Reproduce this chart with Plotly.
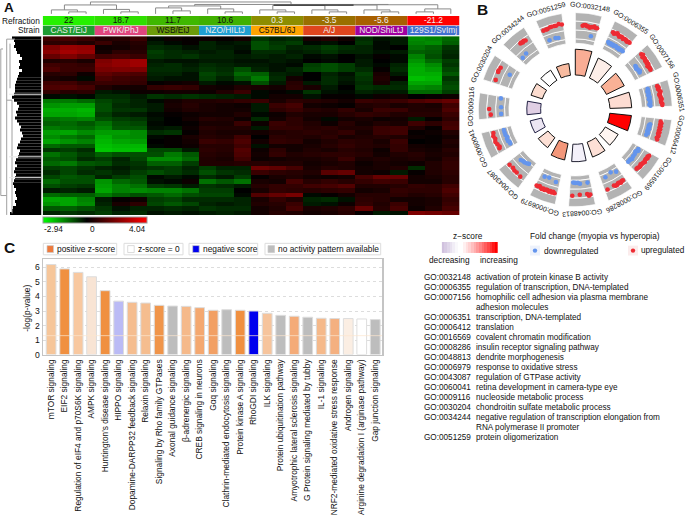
import math
import plotly.graph_objects as go

W, H = 685, 518
FONT = "Liberation Sans"

# ---------- panel A data ----------
refraction = ["22", "18.7", "11.7", "10.6", "0.3", "-3.5", "-5.6", "-21.2"]
refraction_colors = ["#26f000", "#2fdf00", "#3fb800", "#40b000", "#8d8d00", "#9a7000", "#a86000", "#ff0000"]
refraction_text = ["#111", "#111", "#111", "#111", "#eee", "#eee", "#eee", "#eee"]
strains = ["CAST/EiJ", "PWK/PhJ", "WSB/EiJ", "NZO/HILtJ", "C57BL/6J", "A/J", "NOD/ShiLtJ", "129S1/SvImj"]
strain_colors = ["#1e9b32", "#e0457e", "#6b9b0a", "#1f9fd0", "#ffa500", "#e0451e", "#a000a0", "#4070d0"]
strain_text = ["#eee", "#eee", "#111", "#eee", "#111", "#eee", "#eee", "#eee"]
strain_centers = [1, 4, 7, 10, 13, 16, 19, 22]

expression = [
 [1.0,1.1,.9, .5,.6,.9, -.1,.2,.1, .2,.1,.3, -.6,-.4,-.5, .4,.6,.3, -.5,-.2,-.3, -1.6,-1.5,-1.2],
 [.7,.7,.5, .9,.4,.6, -.3,-.1,.1, -.4,-.2,-.3, -.9,-.6,-.7, -.1,-.2,.0, -.6,-.1,-.3, -1.5,-1.6,-1.1],
 [2.0,2.4,2.3, .2,.3,.5, -.5,-.4,-.2, -.4,-.3,-.2, -.9,-.7,-.4, -.5,-.7,-.5, -.4,-.1,.0, -1.3,-1.1,-.6],
 [2.2,2.6,2.4, .3,.7,.6, -.7,-.5,-.4, -.3,-.4,-.1, -.5,-.5,-.3, -.4,-.6,-.4, -.4,-.2,-.3, -1.1,-1.0,-.5],
 [1.6,2.0,1.6, 1.0,1.1,.9, -.6,-.5,-.6, -.4,-.4,-.3, -.4,-.3,-.4, -.1,-.2,.0, -.2,.1,-.1, -1.5,-.9,-.4],
 [.5,.6,.4, 2.0,2.3,2.5, -.3,-.2,-.2, -.3,-.3,-.2, -.2,-.3,-.2, .0,-.1,.0, -.3,.0,-.1, -1.7,-1.2,-.7],
 [1.0,.9,.8, 2.1,2.3,2.5, -.4,-.5,-.3, -.5,-.4,-.3, -.3,-.2,-.1, -.7,-.9,-.7, -.3,-.1,-.4, -1.9,-1.6,-.6],
 [1.2,.9,.9, 1.9,2.0,2.0, -.5,-.5,-.4, -.6,-.5,-.9, -.4,-.2,-.4, -.8,-.9,-.7, -.5,.1,-.5, -2.0,-1.8,-.8],
 [.6,.7,.2, 1.5,1.3,1.2, -.4,-.4,-.2, -.8,-.6,-1.2, -1.1,-.4,-.3, .0,-.4,-.2, -.7,.4,-.3, -2.0,-2.0,-1.0],
 [.4,.3,-.1, 1.2,1.0,.9, -.3,-.2,-.2, -.7,-.4,-.9, -1.4,-.5,.3, .0,-.5,-.3, -.6,.5,.1, -2.2,-2.1,-.6],
 [1.0,1.0,.7, .9,.9,.8, .1,.2,.3, -.3,-.1,-.2, -.9,-.3,.6, -.3,-.5,-.2, -.5,.4,-.4, -1.9,-1.9,-.8],
 [1.2,1.3,1.1, .5,.3,.3, .8,.9,.8, .3,.2,.5, .4,.3,.7, .4,-.3,.0, -.6,-.5,-.5, -1.6,-1.5,-.9],
 [.8,.6,.7, -.3,-.2,.2, .2,.3,.3, .2,.5,.9, -.1,.1,-.1, -.6,-.2,-.1, -.4,-.3,-.3, -1.2,-1.2,-.7],
 [-.1,-.2,-.1, -.5,-.5,-.3, -.6,-.5,-.6, -.5,-.4,-.3, -.1,.3,.3, -.2,.1,.1, -.1,.2,.3, .0,.1,.2],
 [-1.4,-1.4,-1.2, -.8,-.6,-.4, -.1,.3,.5, .5,.6,.8, .9,.4,.7, .6,.5,.3, .9,.8,.9, 1.2,1.4,1.6],
 [-1.7,-1.8,-1.8, -.9,-.5,-.4, -.3,.4,.6, .4,.3,.2, -.3,.9,1.1, .3,.2,.1, .5,.6,.4, .5,.4,1.0],
 [-2.0,-2.0,-2.1, -.9,-.6,-.6, -.3,.3,.5, .4,.3,.3, -.3,.7,.9, .6,.5,.8, .4,.9,.9, .5,.5,1.2],
 [-1.9,-1.9,-2.0, -.7,-.4,-.3, -.1,.1,.2, .3,.3,.5, -.1,.2,.5, .4,.4,.6, .8,.7,.5, .6,.6,.9],
 [-1.3,-1.4,-1.5, -.9,-.7,-.6, -.2,.0,.3, .6,.5,.2, -.5,.3,.7, .3,-.1,.3, .4,.2,.3, -.3,.1,.7],
 [-1.1,-1.2,-1.0, -1.3,-.9,-.8, -.1,.0,.1, .4,.4,.9, .2,.9,.7, .5,.2,.6, .3,.5,.4, 1.0,.7,1.0],
 [-1.4,-1.3,-1.2, -1.5,-1.0,-1.0, -.2,-.3,.2, .6,.5,.5, -.3,.8,.8, .6,.7,.5, .5,.9,1.0, .5,.1,1.1],
 [-1.8,-1.9,-1.6, -1.8,-1.8,-1.6, -.5,-.6,.1, .5,.4,.4, .3,.5,.6, .7,.6,.8, .4,.9,1.0, .1,.2,.5],
 [-1.6,-1.4,-1.2, -2.0,-1.7,-1.6, -.1,.1,.4, .6,.5,1.0, .0,.7,.6, .5,.7,.4, .5,.6,.5, .2,.1,.3],
 [-1.9,-1.7,-1.5, -2.1,-1.9,-1.8, .0,.1,.3, .9,.8,1.2, .3,.8,.7, .3,.5,.7, .6,.4,.9, .0,.1,.5],
 [-1.2,-1.0,-1.0, -2.2,-2.1,-2.1, -.1,.1,.2, .6,.6,1.0, -.2,.3,.3, .4,.6,.8, .6,.5,.8, .3,.2,.4],
 [-.6,-.7,-.5, -2.3,-2.2,-2.2, -.8,-.8,-.3, .7,.6,1.3, .2,.7,.3, .5,.4,.6, .5,.2,.8, .4,.3,.6],
 [-1.3,-1.0,-.7, -1.1,-.9,-.9, -.9,-1.4,-1.0, .6,.5,1.2, .3,.8,.5, .6,.7,.7, .6,.3,.5, .6,.4,.5],
 [-1.0,-.9,-.5, -.7,-.4,-.8, -1.6,-1.6,-1.2, .5,.4,1.0, .2,.3,.4, .4,.5,.9, .4,.5,.4, .5,.3,.7],
 [-1.2,-1.4,-1.0, -.9,-.5,-.6, -1.1,-1.1,-.7, .5,.5,.6, .6,.5,.5, .3,.4,.5, .2,.4,.3, .2,.5,.8],
 [-.7,-.8,-.6, -.4,-.3,-.5, -.6,-.7,-.4, -.7,-.4,-.4, 1.7,1.5,1.1, .4,.6,.5, .3,.4,.5, -.5,.5,.8],
 [-.5,-.8,-.5, -.6,-.4,-.7, -.9,-.7,-.5, -.9,-.6,-.5, .9,.7,.6, .5,1.4,1.6, .3,.2,-.3, .1,.5,.7],
 [-.8,-1.0,-.9, -.4,-.7,-.9, -.1,-.3,-.1, -.5,-.3,-.7, .1,.4,.5, .3,.2,.3, 1.1,1.6,1.6, .3,.4,.6],
 [-1.2,-.9,-.9, -1.7,-1.2,-1.0, -.2,-.1,.2, -1.3,-1.0,-1.3, .4,.3,1.1, .6,.8,.6, .8,1.0,.9, .3,.3,.6],
 [-.9,-.7,-.6, -1.8,-1.5,-1.3, -.7,-.6,-.3, -.6,-.5,-.3, .6,.8,.8, 1.0,1.1,1.3, .5,.5,.6, .8,.7,1.0],
 [-.3,-.4,-.3, -1.9,-1.5,-1.6, -1.5,-1.5,-1.3, -.7,-.7,.0, .4,.8,.7, .6,.7,.8, .3,.4,.8, .7,.7,1.2],
 [-1.2,-1.1,-1.1, -1.4,-1.1,-.9, -1.0,-1.2,-.9, -.8,-.8,-.1, 1.3,1.6,1.9, -.1,.1,.3, .6,.6,.7, .5,.6,1.0],
 [-1.9,-1.9,-1.5, -.3,.1,.2, -.7,-.8,-.5, -.5,-.5,-.4, .4,.8,.5, -.4,-.5,-.2, .7,.6,.3, .3,.4,.8],
 [-1.7,-1.9,-1.6, -.4,.4,.7, -.8,-1.0,-.8, -.4,-.3,-.4, .5,.6,.9, -.3,-.2,.2, .8,.5,.9, .3,.4,.9],
 [-1.0,-1.1,-.9, -.6,-.2,-.4, -.4,-.5,-.4, -.6,-.5,-.5, .3,.5,1.1, .4,.5,.7, 1.6,.6,1.1, .2,.5,1.1],
 [-.4,-.6,-.5, -.7,-.4,-.5, -.2,-.3,-.2, -.3,-.4,-.3, .3,.6,.5, .3,.4,.6, .1,-.3,-.2, 2.0,1.8,1.6],
]
expr_ticks = [-2.94, 0, 4.04]

# column dendrogram merges: left column, right column, merge height, left height, right height
dend_left  = [1, 0, 4, 3, .75, 7, 6, 10, 9, 6.75, 13, 12, 16, 15, 19, 18, 21, 21.5, 12.75, 14.25, 16.5, 8.25, 2.25]
dend_right = [2, 1.5, 5, 4.5, 3.75, 8, 7.5, 11, 10.5, 9.75, 14, 13.5, 17, 16.5, 20, 19.5, 22, 23, 15.75, 18.75, 22.25, 19.4, 13.8]
dend_top   = [3, 5, 3, 5.5, 10, 4, 7, 3, 6, 9, 3, 5, 3, 5, 3, 5, 3, 6, 9.5, 10, 10.2, 10.5, 13]
dend_lh    = [1, 1, 1, 1, 5, 1, 1, 1, 1, 7, 1, 1, 1, 1, 1, 1, 1, 3, 5, 9.5, 10, 9, 10]
dend_rh    = [1, 3, 1, 3, 5.5, 1, 4, 1, 3, 6, 1, 3, 1, 3, 1, 3, 1, 1, 5, 5, 6, 10.2, 10.5]
dend_dark_cols = [12.8, 17.4]
dend_dark_height = [9.9, 9.9]

# row dendrogram: where each black leaf starts, and the pale rows that cross it
row_leaf_start = [12,14,15,14, 16,17,20,22,19,20, 19,22,19,18,17,16,15, 15,15,14,
                  12,14,17,19,18,16,17,15, 17,19,21,20,22,23,21,20,18,17,20,19,18,
                  16,15,17,15,14,16,15, 14,13,14,16,15,16,17,15,16,13,12,10]
row_pale_rows = [19.0, 40.0, 47.0]
row_spine_x = [[0.8,0.8],[0.8,3],[0.8,6.7],[6.7,6.7],[6.7,15],[6.7,12],[12,12],[10,10]]
row_spine_r = [[3.8,53],[3.8,3.8],[53,53],[0.5,59.5],[0.5,0.5],[21,21],[21,59],[2,17]]

# ---------- panel B data ----------
go_terms = ["GO:0032148","GO:0006355","GO:0007156","GO:0006351","GO:0006412","GO:0016569","GO:0008286",
            "GO:0048813","GO:0006979","GO:0043087","GO:0060041","GO:0009116","GO:0030204","GO:0034244","GO:0051259"]
go_descriptions = ["activation of protein kinase B activity", "regulation of transcription, DNA-templated",
    "homophilic cell adhesion via plasma membrane", "adhesion molecules", "transcription, DNA-templated",
    "translation", "covalent chromatin modification", "insulin receptor signaling pathway",
    "dendrite morphogenesis", "response to oxidative stress", "regulation of GTPase activity",
    "retina development in camera-type eye", "nucleoside metabolic process", "chondroitin sulfate metabolic process",
    "negative regulation of transcription elongation from", "RNA polymerase II promoter", "protein oligomerization"]
go_list_codes = ["GO:0032148","GO:0006355","GO:0007156","","GO:0006351","GO:0006412","GO:0016569","GO:0008286",
    "GO:0048813","GO:0006979","GO:0043087","GO:0060041","GO:0009116","GO:0030204","GO:0034244","","GO:0051259"]
go_theta = [8, 32, 56, 80, 104, 128, 152, 176, 200, 224, 248, 272, 296, 320, 344]
go_height = [61, 57, 55, 57, 57, 50, 51, 52.6, 52, 47.5, 47, 49, 47, 47, 47]
go_colors = ["#f9ad95","#fdeee8","#f9b196","#fddcd2","#ff0000","#fff5f1","#fde0d6","#f4f1fa",
             "#f3977a","#fde0d5","#ece6f3","#e0cfe4","#fcdccf","#ffffff","#f8bba0"]
go_line = ["#111"]*7 + ["#223"] + ["#111"]*2 + ["#224","#224"] + ["#111"]*3

up_theta = [5,6,7,8,9,10,11,12,13,14,15,
            26,27,28,29,30,31,32,33,34,35,36,37,38,39,
            50,51,52,53,54,55,56,57,58,59,60,61,62,
            74,75,76,77,78,79,80,81,82,83,84,85,86,87,
            98,99,100,101,102,103,104,105,106,107,108,109,110,
            122,123,124,125,126,127,128,129,130,131,132,133,134,
            146,147,148,149,150,151,152,153,158,
            170,171,172,177,182,
            194,195,196,197,198,199,200,201,202,203,204,205,206,207,
            219.4,223,225,227,230,
            243,244,246,248,250,252,254,
            266.6,270.4,
            290.5,296,297,299.3,
            320.3,321,322,323,324.3,
            338,340,341,343,344,346,347,349,351]
up_r = [85,86,86,85,85,84,85,85,86,85,85,
        87,86,87,88,87,86,87,87,86,87,87,86,87,87,
        87,88,86,87,87,86,87,86,87,85,86,86,86,
        86,87,86,87,88,87,86,87,87,88,87,87,88,88,
        87,88,87,88,87,88,87,88,87,88,88,87,88,
        88,87,88,87,87,88,87,87,86,87,87,86,86,
        86,86,87,86,86,87,87,86,87,
        87,88,86,86,87,
        87,86,87,86,87,86,86,87,86,87,86,85,86,86,
        87.6,86.8,87,86,86.6,
        86,85,86,87,86,87,86,
        85.5,87,
        85.8,86.7,87,86.4,
        86.7,87,86,87,86,
        86,86,86,87,87,87,87,88,87]
down_theta = [12,
              26,27,28,29,30,31,32,33,34,35,36,37,38,39,
              54,55,56,57,58,59,60,
              74,75,76,77,78,79,80,81,82,83,84,85,86,87,
              101,102,103,104,105,106,107,108,109.5,
              122,123,124,125,127,129,131,132,133,134.5,
              146.6,150.6,156,
              170.5,176.4,178,180,181.6,
              195,201,204.6,
              220.5,222,224,225.5,227.3,
              242.5,244,245,247,248,250,252,254,
              266.7,271.8,278.6,
              298,
              314.6,318.8,
              339.6,344.5,346.8]
down_r = [75.7,
          76,75,76,75,76,75,76,76,75,76,75,76,76,76,
          75,75,74,75,75,76,75,
          76,76,75,76,76,75,76,76,75,76,76,76,75,76,
          77,76,77,76,77,76,76,77,76,
          75,76,75,74,75,75,76,75,75,75,
          75,72.7,74.8,
          74.7,75,74,74,73.7,
          75.6,73.5,74.4,
          72,73,74,74,75,
          74,74,75,75,74,75,75,75,
          75,75,76,
          75,
          74.5,75.4,
          74.7,75,74.3]
grey_band_edges = [67, 71.5, 80.5, 89.5, 98]
zscale_ticks = [-.42,-.35,-.28,-.2,-.12,-.05,0,0,.06,.12,.18,.25,.32,.4,.48,.56,.64,.72,.8,.9,1]

# ---------- panel C data ----------
pathways = ["mTOR signaling","EIF2 signaling","Regulation of eIF4 and p70S6K signaling","AMPK signaling",
    "Huntington's disease signaling","HIPPO signaling","Dopamine-DARPP32 feedback signaling","Relaxin signaling",
    "Signaling by Rho family GTPases","Axonal guidance signaling","β-adrenergic signaling","CREB signaling in neurons",
    "Gαq signaling","Clathrin-mediated endocytosis signaling","Protein kinase A signaling","RhoGDI signaling",
    "ILK signaling","Protein ubiquitination pathway","Amyotrophic lateral sclerosis signaling",
    "G Protein signaling mediated by tubby","IL-1 signaling","NRF2-mediated oxidative stress response",
    "Androgen signaling","Arginine degradation I (arginase pathway)","Gap junction signaling"]
log_p = [6.2,5.9,5.66,5.36,4.4,3.68,3.6,3.55,3.39,3.34,3.32,3.23,3.05,3.09,3.05,3.0,2.84,2.7,2.64,2.57,2.5,2.48,2.48,2.45,2.41]
pathway_colors = ["#f6c69a","#f09040","#f8c8a0","#f8e4d4","#f09040","#bbbbf5","#f5bd8f","#f5bd8f","#f0954a","#bdbdbd",
    "#f5b98a","#f4a870","#f2a064","#bdbdbd","#f09040","#0000ee","#f6c49c","#bdbdbd","#f4ab78","#bdbdbd",
    "#f5b98a","#f4b080","#fbeee3","#ffffff","#bdbdbd"]
legend_c_labels = ["positive z-score", "z-score = 0", "negative score", "no activity pattern available"]
legend_c_colors = ["#ee7a3c", "#ffffff", "#0000ee", "#bdbdbd"]


def xp(px):
    return px / W


def yp(py):
    return 1 - py / H


def dom(a, b, size):
    return [a / size, b / size]


def ydom(top, bottom):
    return [1 - bottom / H, 1 - top / H]


fig = go.Figure()

# heatmap
green_red = [[0, "#00ff00"], [2.94 / 6.98, "#000000"], [1, "#ff0000"]]
fig.add_trace(go.Heatmap(z=expression, zmin=-2.94, zmax=4.04, colorscale=green_red, xaxis="x", yaxis="y",
    hoverinfo="skip", xgap=0, ygap=0,
    colorbar=dict(orientation="h", x=xp(42.7), xanchor="left", y=yp(218.7), yanchor="top", lenmode="pixels", len=104,
                  thicknessmode="pixels", thickness=6, tickmode="array", tickvals=expr_ticks,
                  showticklabels=False, ticks="", outlinecolor="#999", outlinewidth=1, xpad=0, ypad=0)))

# annotation bands
for base, colors in ((0, strain_colors), (1, refraction_colors)):
    fig.add_trace(go.Bar(x=strain_centers, y=[0.95] * 8, base=[base + 0.03] * 8, width=[3] * 8, marker=dict(color=colors, line_width=0),
                         xaxis="x", yaxis="y2", hoverinfo="skip"))
for level, labels, cols in ((0.5, strains, strain_text), (1.5, refraction, refraction_text)):
    fig.add_trace(go.Scatter(x=strain_centers, y=[level] * 8, mode="text", text=labels,
                             textfont=dict(family=FONT, size=8.4, color=cols), xaxis="x", yaxis="y2", hoverinfo="skip"))

# column dendrogram
dx, dy = [], []
for l, r, t, lh, rh in zip(dend_left, dend_right, dend_top, dend_lh, dend_rh):
    dx += [l, l, r, r, None]
    dy += [lh, t, t, rh, None]
fig.add_trace(go.Scatter(x=dx, y=dy, mode="lines", line=dict(color="#8a8a8a", width=1), xaxis="x", yaxis="y3", hoverinfo="skip"))
fig.add_trace(go.Scatter(x=dend_dark_cols, y=dend_dark_height, mode="lines", line=dict(color="#333333", width=1.3),
                         xaxis="x", yaxis="y3", hoverinfo="skip"))

# row dendrogram
fig.add_trace(go.Bar(y=list(range(len(row_leaf_start))), x=[41.5 - s for s in row_leaf_start], base=row_leaf_start,
                     orientation="h", width=1, marker=dict(color="#000000", line_width=0), xaxis="x2", yaxis="y4", hoverinfo="skip"))
sx, sy = [], []
for a, b in zip(row_spine_x, row_spine_r):
    sx += a + [None]
    sy += b + [None]
fig.add_trace(go.Scatter(x=sx, y=sy, mode="lines", line=dict(color="#a0a0a0", width=1), xaxis="x2", yaxis="y4", hoverinfo="skip"))
px_, py_ = [], []
for r in row_pale_rows:
    px_ += [9, 41.5, None]
    py_ += [r, r, None]
fig.add_trace(go.Scatter(x=px_, y=py_, mode="lines", line=dict(color="#e8e8e8", width=1), xaxis="x2", yaxis="y4", hoverinfo="skip"))

# panel C bars
fig.add_trace(go.Bar(x=pathways, y=log_p, width=0.72, marker=dict(color=pathway_colors, line=dict(color="#dddddd", width=1)),
                     xaxis="x3", yaxis="y5", hoverinfo="skip"))

# z-score strip
fig.add_trace(go.Heatmap(z=[zscale_ticks], zmin=-1, zmax=1, showscale=False,
                         colorscale=[[0, "#8e6bb0"], [0.5, "#ffffff"], [1, "#ff0000"]], xaxis="x4", yaxis="y6", hoverinfo="skip"))

# circular plot
for lo, hi in zip(grey_band_edges[:-1], grey_band_edges[1:]):
    fig.add_trace(go.Barpolar(theta=go_theta, r=[hi - lo] * 15, base=[lo] * 15, width=[16] * 15,
                              marker=dict(color="#b3b3b3", line=dict(color="#ffffff", width=0.8)), subplot="polar", hoverinfo="skip"))
fig.add_trace(go.Barpolar(theta=go_theta, r=[h - 35 for h in go_height], base=[35] * 15, width=[16] * 15,
                          marker=dict(color=go_colors, line=dict(color=go_line, width=1)), subplot="polar", hoverinfo="skip"))
fig.add_trace(go.Scatterpolar(theta=up_theta, r=up_r, mode="markers", marker=dict(color="#ee2b33", size=4.6),
                              subplot="polar", hoverinfo="skip"))
fig.add_trace(go.Scatterpolar(theta=down_theta, r=down_r, mode="markers", marker=dict(color="#6495ed", size=4.6),
                              subplot="polar", hoverinfo="skip"))

ann = []


def text(px, py, s, size=8.3, anchor="left", angle=0, color="#111", bold=False):
    ann.append(dict(x=xp(px), y=yp(py), xref="paper", yref="paper", text=f"<b>{s}</b>" if bold else s, showarrow=False,
                    xanchor=anchor, yanchor="middle", textangle=angle, borderpad=0,
                    font=dict(family=FONT, size=size, color=color)))


text(3, 7.6, "A", 13.5, bold=True)
text(476, 9.5, "B", 15.5, bold=True)
text(3, 250, "C", 15.5, bold=True)
text(41, 21.5, "Refraction", anchor="right")
text(41, 30.5, "Strain", anchor="right")
text(43, 231, "-2.94")
text(92.5, 231, "0", anchor="center")
text(147, 231, "4.04", anchor="right")

CX, CY, R_LAB = 575.3, 110.7, 105
for term, th in zip(go_terms, go_theta):
    a = math.radians(th)
    text(CX + R_LAB * math.sin(a), CY - R_LAB * math.cos(a), term, 7, anchor="center", angle=th)

text(468, 238.5, "z\u2212score", 8.3, anchor="center")
text(428, 263, "decreasing")
text(479, 263, "increasing")
text(529, 238.5, "Fold change (myopia vs hyperopia)")
text(543, 253, "downregulated")
text(639.5, 253, "upregulated", 8.2)

for i, (code, desc) in enumerate(zip(go_list_codes, go_descriptions)):
    py = 280.7 + 10.05 * i
    if code:
        text(423, py, code, 8.2)
    text(475, py, desc, 8.2)

text(26.7, 311, "-log(p-value)", 8.4, anchor="center", angle=-90)

shapes = []
# fold-change legend dots
for cx, col, halo in ((535, "#6495ed", "#eef2fb"), (633, "#ee2b33", "#fbecec")):
    shapes.append(dict(type="rect", xref="paper", yref="paper", x0=xp(cx - 5), x1=xp(cx + 5), y0=yp(258), y1=yp(248),
                       fillcolor=halo, line_width=0))
    shapes.append(dict(type="circle", xref="paper", yref="paper", x0=xp(cx - 2.2), x1=xp(cx + 2.2), y0=yp(255.2), y1=yp(250.8),
                       fillcolor=col, line_width=0))
# panel C legend boxes
boxes = [(43.3, 116.7, 47, 56), (124, 183, 127.7, 137), (189, 257.7, 192.7, 202), (265, 380.7, 268, 277)]
for (b0, b1, sw, tx), lab, col in zip(boxes, legend_c_labels, legend_c_colors):
    shapes.append(dict(type="rect", xref="paper", yref="paper", x0=xp(b0), x1=xp(b1), y0=yp(257.3), y1=yp(245.7),
                       fillcolor="#ffffff", line=dict(color="#dddddd", width=1)))
    shapes.append(dict(type="rect", xref="paper", yref="paper", x0=xp(sw), x1=xp(sw + 6.5), y0=yp(255), y1=yp(248),
                       fillcolor=col, line=dict(color="#cccccc", width=0.7)))
    text(tx, 251.5, lab, 8.4)
# significance threshold in panel C
shapes.append(dict(type="line", xref="x3", yref="y5", x0=-0.6, x1=24.5, y0=1.3, y1=1.3,
                   line=dict(color="#fde6cf", width=1), opacity=0.7))

off = dict(visible=False, showgrid=False, zeroline=False, fixedrange=True)
fig.update_layout(
    width=W, height=H, autosize=False, margin=dict(l=0, r=0, t=0, b=0), showlegend=False, paper_bgcolor="#ffffff",
    plot_bgcolor="#ffffff", barmode="overlay", annotations=ann, shapes=shapes,
    font=dict(family=FONT, size=8.4, color="#111"),
    xaxis=dict(domain=dom(42.7, 459.5, W), range=[-0.5, 23.5], anchor="y", **off),
    yaxis=dict(domain=ydom(36.5, 217), range=[39.5, -0.5], anchor="x", **off),
    yaxis2=dict(domain=ydom(16, 35.8), range=[0, 2], anchor="x", **off),
    yaxis3=dict(domain=ydom(0, 15), range=[0, 15], anchor="x", **off),
    xaxis2=dict(domain=dom(0, 41.5, W), range=[0, 41.5], anchor="y4", **off),
    yaxis4=dict(domain=ydom(36.5, 217), range=[59.5, -0.5], anchor="x2", **off),
    xaxis3=dict(domain=dom(43, 382, W), range=[-0.6, 24.5], anchor="y5", type="category", categoryorder="array",
                categoryarray=pathways, tickangle=-90, ticks="", showline=True, linecolor="#c4c4c4", linewidth=1.5, mirror=True,
                showgrid=False, tickfont=dict(family=FONT, size=8.4, color="#111"), fixedrange=True),
    yaxis5=dict(domain=ydom(262, 358), range=[0, 6.55], anchor="x3", tickvals=[0, 1, 2, 3, 4, 5, 6], ticks="",
                showline=True, linecolor="#c4c4c4", linewidth=1.5, mirror=True, showgrid=True, gridcolor="#dddddd",
                griddash="dot", gridwidth=1, zeroline=False, tickfont=dict(family=FONT, size=8.6, color="#111"), fixedrange=True),
    xaxis4=dict(domain=dom(441.7, 498, W), anchor="y6", **off),
    yaxis6=dict(domain=ydom(244.3, 255.7), anchor="x4", **off),
    polar=dict(domain=dict(x=dom(477.3, 673.3, W), y=ydom(12.7, 208.7)), bgcolor="#ffffff", barmode="overlay",
               radialaxis=dict(visible=False, range=[0, 98]),
               angularaxis=dict(visible=False, rotation=90, direction="clockwise", thetaunit="degrees")),
)

fig.write_html("out.html", post_script="document.body.style.margin='0';document.body.style.overflow='hidden';",
               config={"displayModeBar": False, "staticPlot": True})
